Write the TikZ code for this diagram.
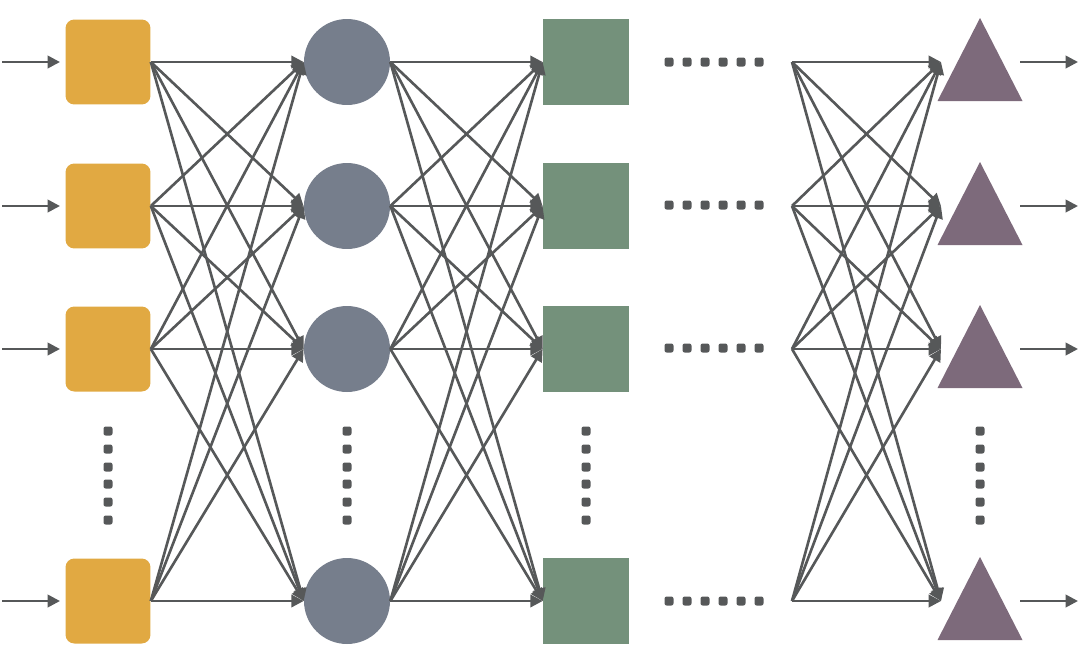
\documentclass[tikz,border=0pt]{standalone}
\usepackage{xcolor}
\usepackage{tikz}
\usetikzlibrary{arrows.meta}

\definecolor{boxorange}{HTML}{E1A942}
\definecolor{hidgray}{HTML}{767E8C}
\definecolor{sqgreen}{HTML}{74917B}
\definecolor{tripurple}{HTML}{7D6A7B}
\definecolor{wire}{HTML}{565859}

\begin{document}
\begin{tikzpicture}[x=0.02cm, y=-0.02cm,
  link/.style={wire, line width=1.5pt, -{Triangle[length=7pt, width=7pt]}},
  inbox/.style={fill=boxorange, rounded corners=5pt, minimum size=1.7cm, inner sep=0pt},
  hidden/.style={circle, fill=hidgray, minimum size=1.72cm, inner sep=0pt},
  greensq/.style={fill=sqgreen, minimum size=1.72cm, inner sep=0pt},
  dotmark/.style={fill=wire, rounded corners=1.2pt}]
  \useasboundingbox (0,0) rectangle (1080,647);

  % Layers
  \foreach \i/\y in {1/62, 2/206, 3/349, 4/601} {
    \node[inbox] (box\i) at (108, \y) {};
    \node[hidden] (hid\i) at (347, \y) {};
    \node[greensq] (sq\i) at (586, \y) {};
    \coordinate (src\i) at (792, \y);
    \coordinate (tgt\i) at (941, \y);
    \coordinate (inA\i) at (2, \y);
    \coordinate (inB\i) at (60, \y);
    \coordinate (outA\i) at (1020, \y);
    \coordinate (outB\i) at (1078, \y);
    % triangles
    \fill[tripurple] (980, \y-44) -- (1022.5, \y+39) -- (937.5, \y+39) -- cycle;
  }

  % Inputs and outputs
  \foreach \i in {1,...,4} {
    \draw[link] (inA\i) -- (inB\i);
    \draw[link] (outA\i) -- (outB\i);
  }

  % Full connections
  \foreach \i in {1,...,4} {
    \foreach \j in {1,...,4} {
      \draw[link] (box\i.east) -- (hid\j.west);
      \draw[link] (hid\i.east) -- (sq\j.west);
      \draw[link] (src\i) -- (tgt\j);
    }
  }

  % Horizontal dots
  \foreach \y in {62, 205, 348, 601} {
    \foreach \x in {669, 687, 705, 723, 741, 759} {
      \fill[dotmark] (\x-4.5, \y-4.5) rectangle (\x+4.5, \y+4.5);
    }
  }
  % Vertical dots
  \foreach \x in {108, 347, 586, 980} {
    \foreach \y in {431, 449, 467, 484, 502, 520} {
      \fill[dotmark] (\x-4.5, \y-4.5) rectangle (\x+4.5, \y+4.5);
    }
  }
\end{tikzpicture}
\end{document}
